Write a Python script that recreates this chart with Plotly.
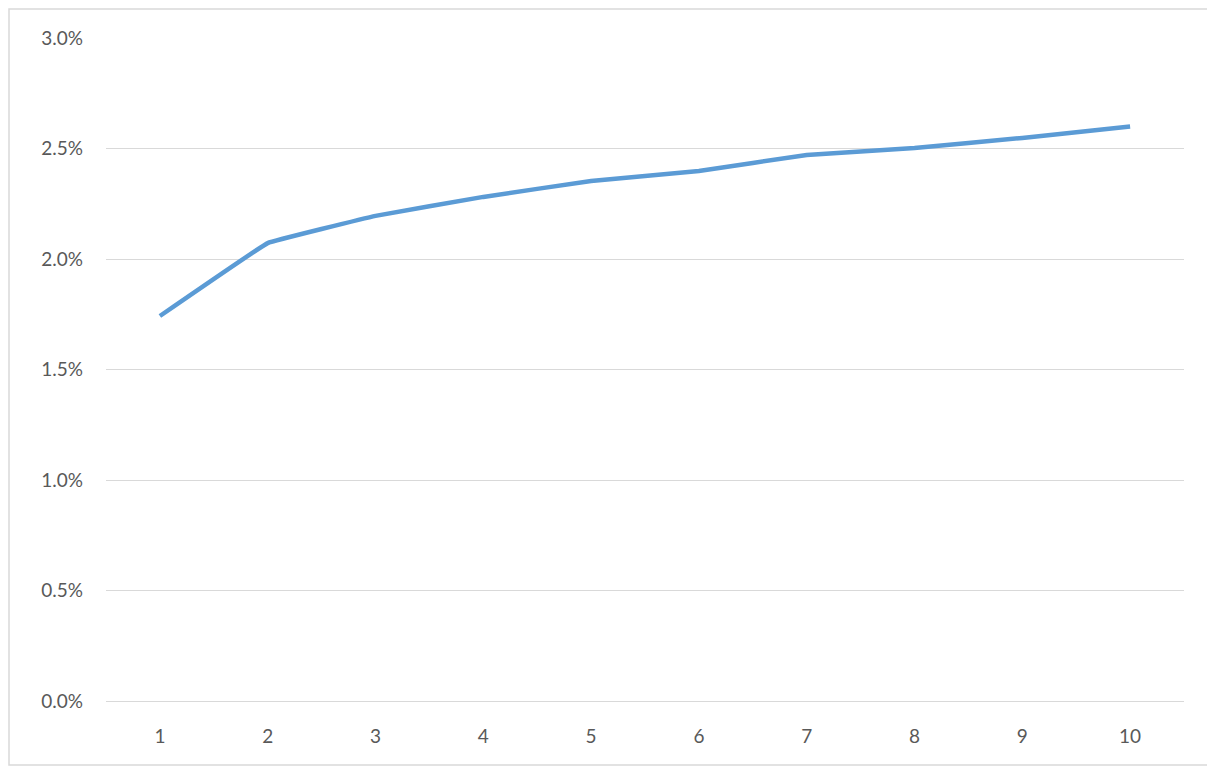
import plotly.graph_objects as go

categories = ["1", "2", "3", "4", "5", "6", "7", "8", "9", "10"]
values = [0.01742, 0.02072, 0.02195, 0.02281, 0.02353, 0.02398, 0.02471, 0.02502, 0.02548, 0.02600]
y_ticks = [0, 0.005, 0.01, 0.015, 0.02, 0.025, 0.03]

W, H = 1215, 769
L, R, T, B = 98, 39, 30, 76
pw, ph = W - L - R, H - T - B

fig = go.Figure()
fig.add_trace(go.Scatter(
    x=categories, y=values, mode="lines",
    line=dict(color="#5B9BD5", width=4.5, shape="spline", smoothing=0.15),
    hoverinfo="skip", showlegend=False,
))

fig.update_layout(
    width=W, height=H,
    margin=dict(l=L, r=R, t=T, b=B),
    paper_bgcolor="white", plot_bgcolor="white",
    font=dict(family="Lato, Carlito, Calibri, sans-serif", size=19, color="#595959"),
    xaxis=dict(type="category", range=[-0.5, 9.5], showgrid=False, zeroline=False,
               showline=False, ticks="", ticklabelstandoff=22, fixedrange=True),
    yaxis=dict(range=[0, 0.03], tickvals=y_ticks, tickformat=".1%",
               showgrid=True, gridcolor="#D9D9D9", gridwidth=1.3,
               zeroline=True, zerolinecolor="#D9D9D9", zerolinewidth=1.3,
               showline=False, ticks="", ticklabelstandoff=22, fixedrange=True),
    shapes=[dict(type="rect", xref="paper", yref="paper",
                 x0=(1 - L) / pw, x1=(1205 - L) / pw,
                 y0=(H - B - 757) / ph, y1=(H - B - 1) / ph,
                 line=dict(color="#D9D9D9", width=1.5), fillcolor="rgba(0,0,0,0)",
                 layer="below")],
)

fig.write_html("out.html")
